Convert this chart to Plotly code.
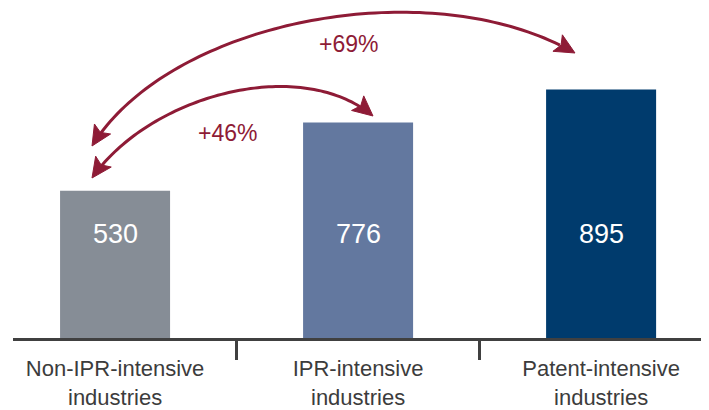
import numpy as np
import plotly.graph_objects as go

# ---- data ----
categories = ["Non-IPR-intensive industries", "IPR-intensive industries", "Patent-intensive industries"]
tick_labels = ["Non-IPR-intensive<br>industries", "IPR-intensive<br>industries", "Patent-intensive<br>industries"]
values = [530, 776, 895]
bar_colors = ["#868D96", "#63789F", "#003B6D"]

# ---- layout constants ----
OFF = 8                      # default page (body) margin of the html page
W, H = 709 - OFF, 410 - OFF
ML, MR, MT, MB = 5, 0, 0, 72
PW = W - ML - MR
PH = H - MT - MB
Y_MAX = PH / 0.2777
RED = "#8E1B36"
FONT = "Liberation Sans Narrow, Arial Narrow, Liberation Sans, Arial, sans-serif"


def px(x, y):
    """screen pixel -> paper coords"""
    x, y = x - OFF, y - OFF
    return (x - ML) / PW, (H - MB - y) / PH


def bez(p0, p1, p2, p3, n=90):
    t = np.linspace(0, 1, n)[:, None]
    p0, p1, p2, p3 = map(np.array, (p0, p1, p2, p3))
    return ((1 - t) ** 3) * p0 + 3 * ((1 - t) ** 2) * t * p1 + 3 * (1 - t) * t * t * p2 + (t ** 3) * p3


def head(tip, d, L=20, Wd=9.5, notch=4):
    tip = np.array(tip, float)
    d = np.array(d, float)
    d = d / np.linalg.norm(d)
    nrm = np.array([-d[1], d[0]])
    pts = [tip, tip - L * d + Wd * nrm, tip - (L - notch) * d, tip - L * d - Wd * nrm]
    pp = [px(*p) for p in pts]
    return "M " + " L ".join(f"{a:.5f},{b:.5f}" for a, b in pp) + " Z"


def curved_arrow(p0, p1, p2, p3):
    pts = bez(p0, p1, p2, p3)
    a, b = np.array(p0, float), np.array(p3, float)
    keep = [p for p in pts if np.linalg.norm(p - a) > 13 and np.linalg.norm(p - b) > 13]
    pp = [px(*p) for p in keep]
    path = "M " + " L ".join(f"{x:.5f},{y:.5f}" for x, y in pp)
    return [
        dict(type="path", path=path, xref="paper", yref="paper",
             line=dict(color=RED, width=3), layer="above"),
        dict(type="path", path=head(p0, np.array(p0) - np.array(p1)), xref="paper", yref="paper",
             fillcolor=RED, line=dict(color=RED, width=1), layer="above"),
        dict(type="path", path=head(p3, np.array(p3) - np.array(p2)), xref="paper", yref="paper",
             fillcolor=RED, line=dict(color=RED, width=1), layer="above"),
    ]


fig = go.Figure(
    go.Bar(
        x=categories,
        y=values,
        marker=dict(color=bar_colors, line=dict(width=0)),
        width=0.4527,
        hoverinfo="skip",
    )
)

shapes = []
shapes += curved_arrow((92, 146), (170, 20), (430, -30), (575, 53))
shapes += curved_arrow((92, 178), (150, 95), (300, 55), (373, 116))

annotations = []
for c, v in zip(categories, values):
    annotations.append(dict(x=c, y=374, xref="x", yref="y", text=str(v), showarrow=False,
                            font=dict(family=FONT, size=27, color="white")))

base = values[0]
pct = [f"+{round((v / base - 1) * 100)}%" for v in values]
for (cx, cy), txt in [((348, 44), pct[2]), ((227, 133), pct[1])]:
    x, y = px(cx, cy)
    annotations.append(dict(x=x, y=y, xref="paper", yref="paper", text=txt, showarrow=False,
                            xanchor="center", yanchor="middle",
                            font=dict(family=FONT, size=23, color=RED)))

fig.update_layout(
    width=W, height=H,
    margin=dict(l=ML, r=MR, t=MT, b=MB),
    paper_bgcolor="white", plot_bgcolor="white",
    showlegend=False,
    shapes=shapes,
    annotations=annotations,
    xaxis=dict(
        type="category",
        range=[-0.42, 2.444],
        tickvals=categories,
        ticktext=tick_labels,
        tickson="boundaries",
        ticks="outside",
        ticklen=19,
        tickwidth=3,
        tickcolor="#404040",
        showline=True,
        linecolor="#404040",
        linewidth=3,
        showgrid=False,
        zeroline=False,
        ticklabelstandoff=9,
        tickfont=dict(family=FONT, size=22, color="#3C3C3C"),
        fixedrange=True,
    ),
    yaxis=dict(
        range=[0, Y_MAX],
        visible=False,
        showgrid=False,
        zeroline=False,
        fixedrange=True,
    ),
)

fig.write_html("out.html")
